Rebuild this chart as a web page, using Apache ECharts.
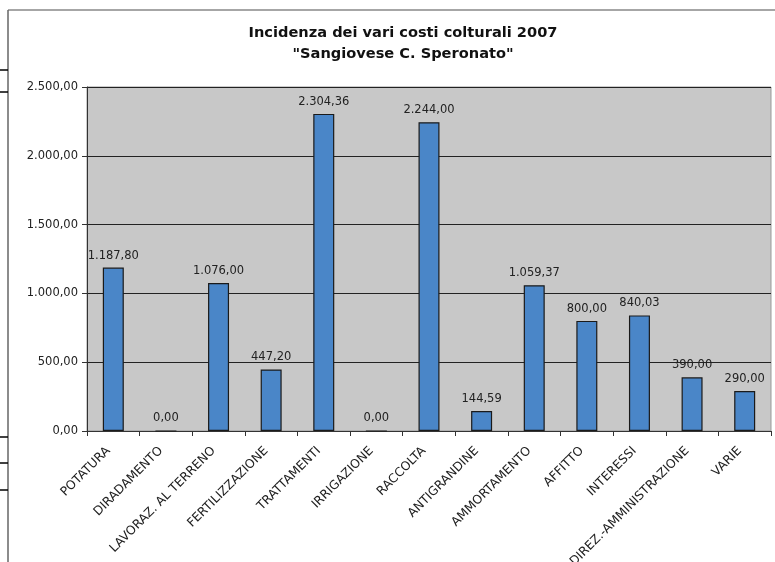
<!DOCTYPE html>
<html><head><meta charset="utf-8">
<script src="https://cdn.jsdelivr.net/npm/echarts@6/dist/echarts.min.js"></script>
<style>html,body{margin:0;padding:0;background:#fff}#c{width:775px;height:562px}</style>
</head><body><div id="c"></div>
<script>
const categories = ["POTATURA","DIRADAMENTO","LAVORAZ. AL TERRENO","FERTILIZZAZIONE","TRATTAMENTI","IRRIGAZIONE","RACCOLTA","ANTIGRANDINE","AMMORTAMENTO","AFFITTO","INTERESSI","DIREZ.-AMMINISTRAZIONE","VARIE"];
const values = [1187.80, 0, 1076.00, 447.20, 2304.36, 0, 2244.00, 144.59, 1059.37, 800.00, 840.03, 390.00, 290.00];
const titleLines = ["Incidenza dei vari costi colturali 2007", "\"Sangiovese C. Speronato\""];

function fmt(v){
  const parts = Number(v).toFixed(2).split('.');
  parts[0] = parts[0].replace(/\B(?=(\d{3})+(?!\d))/g, '.');
  return parts[0] + ',' + parts[1];
}
const FONT = '"DejaVu Sans", "Liberation Sans", Arial, sans-serif';
const chart = echarts.init(document.getElementById('c'), null, {renderer:'canvas'});
const stray = [70, 92, 437, 463, 490].map(y => ({
  type:'line', shape:{x1:0,y1:y,x2:8,y2:y}, style:{stroke:'#000', lineWidth:1.5}
}));
chart.setOption({
  backgroundColor:'#fff',
  animation:false,
  title:{
    text: titleLines.join('\n'), left:398, top:18, textAlign:'center',
    textStyle:{fontFamily:FONT, fontSize:14.6, fontWeight:'bold', color:'#111', lineHeight:21}
  },
  graphic:[
    {type:'line', shape:{x1:8,y1:10,x2:775,y2:10}, style:{stroke:'#888', lineWidth:1.5}},
    {type:'line', shape:{x1:8,y1:10,x2:8,y2:562}, style:{stroke:'#666', lineWidth:1.5}},
    ...stray
  ],
  grid:{left:87, right:4, top:87, bottom:131, outerBoundsMode:'none', containLabel:false, show:true, backgroundColor:'#c8c8c8', borderColor:'#999', borderWidth:1},
  xAxis:{
    type:'category', data:categories,
    axisLine:{lineStyle:{color:'#333'}},
    axisTick:{show:true, alignWithLabel:false, length:5, lineStyle:{color:'#333'}},
    axisLabel:{rotate:45, interval:0, fontFamily:FONT, fontSize:12.3, color:'#222', margin:13, padding:[0,7,0,0]}
  },
  yAxis:{
    type:'value', min:0, max:2500, interval:500,
    axisLine:{show:true, lineStyle:{color:'#333'}},
    axisTick:{show:true, length:5, lineStyle:{color:'#333'}},
    axisLabel:{formatter:fmt, fontFamily:FONT, fontSize:11.5, color:'#222', margin:9},
    splitLine:{lineStyle:{color:'#222', width:1}}
  },
  series:[{
    type:'bar', data:values, barWidth:21,
    itemStyle:{color:'#4a86c8', borderColor:'#1a1a1a', borderWidth:1.2},
    label:{show:true, position:'top', distance:6, formatter:p=>fmt(p.value), fontFamily:FONT, fontSize:11.5, color:'#222'}
  }]
});
</script></body></html>
